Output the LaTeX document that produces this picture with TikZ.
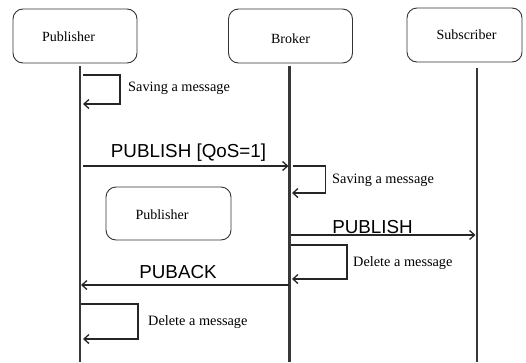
\documentclass[tikz,border=0pt]{standalone}
\usepackage{fontspec}
\setmainfont{Liberation Serif}
\newfontfamily\arialfont{Liberation Sans}
\usetikzlibrary{arrows.meta}
\begin{document}
\begin{tikzpicture}[x=1pt,y=-1pt,
  actor/.style={draw=black!80, line width=0.9pt, rounded corners=10pt, inner sep=0, fill=white},
  small/.style={font=\fontsize{14}{16}\selectfont, inner sep=0},
  note/.style={font=\fontsize{14.3}{16}\selectfont, anchor=west, inner sep=0},
  lab/.style={font=\arialfont\fontsize{18.8}{21}\selectfont, inner sep=0},
  life/.style={draw=black!78, line width=2.4pt},
  msg/.style={draw=black!85, line width=1.3pt, -{Straight Barb[length=5pt,width=9pt,line width=1.3pt]}}]
\useasboundingbox (0,0) rectangle (526,362);
\fill[white] (0,0) rectangle (526,362);
% actors
\node[actor, minimum width=124pt, minimum height=54pt] (pubbox) at (75,36) {};
\node[small] (pubtxt) at (68.5,37) {Publisher};
\node[actor, minimum width=124pt, minimum height=54pt] (brkbox) at (290.5,36) {};
\node[small] (brktxt) at (290.5,39) {Broker};
\node[actor, minimum width=115pt, minimum height=54pt] (subbox) at (464.5,35) {};
\node[small] (subtxt) at (466.5,35) {Subscriber};
% lifelines
\coordinate (p0) at (80,66);   \coordinate (p1) at (80,362);
\coordinate (b0) at (289.5,66); \coordinate (b1) at (289.5,362);
\coordinate (s0) at (476.7,68); \coordinate (s1) at (476.7,362);
\draw[life] (p0) -- (p1);
\draw[life] (b0) -- (b1);
\draw[life] (s0) -- (s1);
% loop 1
\coordinate (l1a) at (83,75); \coordinate (l1b) at (83,104);
\draw[msg] (l1a) -- ++(37,0) |- (l1b);
\node[note] (n1) at (128,88) {Saving a message};
% publish qos
\coordinate (m1a) at (83,166); \coordinate (m1b) at (288.5,166);
\draw[msg] (m1a) -- (m1b);
\node[lab] (t1) at (188.5,153) {PUBLISH [QoS=1]};
% loop 2
\coordinate (l2a) at (292.5,166); \coordinate (l2b) at (292,193);
\draw[msg] (l2a) -- ++(33,0) |- (l2b);
\node[note] (n2) at (332,180) {Saving a message};
% small publisher box
\node[actor, minimum width=125pt, minimum height=53pt] (pub2box) at (168.5,213.5) {};
\node[small] (pub2txt) at (162,215) {Publisher};
% publish
\coordinate (m2a) at (291,235); \coordinate (m2b) at (475.5,235);
\draw[msg] (m2a) -- (m2b);
\node[lab] (t2) at (372.5,227) {PUBLISH};
% loop 3
\coordinate (l3a) at (291,245); \coordinate (l3b) at (292,279);
\draw[msg] (l3a) -- ++(56,0) |- (l3b);
\node[note] (n3) at (353,263) {Delete a message};
% puback
\coordinate (m3a) at (288.5,285); \coordinate (m3b) at (81,285);
\draw[msg] (m3a) -- (m3b);
\node[lab] (t3) at (178,272) {PUBACK};
% loop 4
\coordinate (l4a) at (81,304); \coordinate (l4b) at (83,339);
\draw[msg] (l4a) -- ++(57,0) |- (l4b);
\node[note] (n4) at (148,322) {Delete a message};
\end{tikzpicture}
\end{document}
